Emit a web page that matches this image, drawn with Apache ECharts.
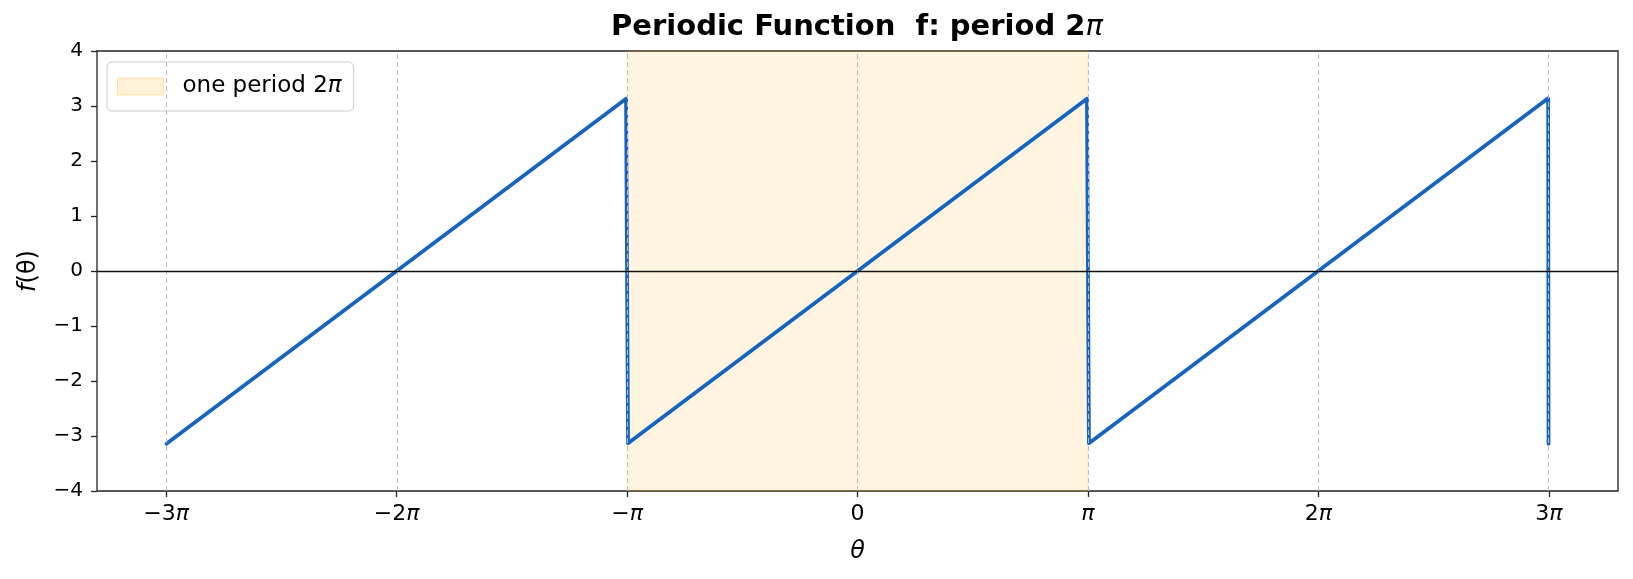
<!DOCTYPE html>
<html>
<head>
<meta charset="utf-8">
<title>Periodic Function</title>
<script src="https://cdn.jsdelivr.net/npm/echarts@6/dist/echarts.min.js"></script>
<style>
  html, body { margin: 0; padding: 0; background: #fff; }
  #chart { width: 1633px; height: 579px; }
</style>
</head>
<body>
<div id="chart"></div>
<script>
/* sawtooth f(theta), period 2pi */

// x ticks (multiples of pi) and their labels
var thetaTicks = [-9.4248, -6.2832, -3.1416, 0, 3.1416, 6.2832, 9.4248];
var thetaLabels = ['−3π', '−2π', '−π', '0', 'π', '2π', '3π'];

// corners of the sawtooth
var sawTheta = [-9.42, -3.155, -3.128, 3.128, 3.155, 9.415, 9.42];
var sawValue = [-3.14, 3.13, -3.13, 3.13, -3.13, 3.14, -3.14];

// shaded span: one period
var periodSpan = [-3.1416, 3.1416];

var FONT = 'DejaVu Sans';
var sawData = [];
for (var i = 0; i < sawTheta.length; i++) {
  sawData.push([sawTheta[i], sawValue[i]]);
}

function piLabel(txt) {
  // italic pi like mathtext
  return txt.replace('π', '{i|π}');
}

var gridLines = [];
for (var k = 0; k < thetaTicks.length; k++) {
  gridLines.push({ xAxis: thetaTicks[k], lineStyle: { color: '#bdbdbd', width: 1, type: [5, 3] } });
}
// black line at f = 0
gridLines.push({ yAxis: 0, lineStyle: { color: '#111', width: 1.4, type: 'solid' } });

var myChart = echarts.init(document.getElementById('chart'), null, { renderer: 'canvas' });

var option = {
  animation: false,
  backgroundColor: '#ffffff',
  title: {
    text: 'Periodic Function  f: period 2{i|π}',
    left: 857,
    top: 13,
    padding: 0,
    textAlign: 'center',
    textStyle: {
      fontFamily: FONT,
      fontSize: 29,
      fontWeight: 'bold',
      color: '#000',
      rich: {
        i: { fontFamily: FONT, fontSize: 29, fontStyle: 'italic', fontWeight: 'normal', color: '#000' }
      }
    }
  },
  legend: {
    left: 107,
    top: 62,
    orient: 'vertical',
    padding: [13, 12, 13, 10],
    backgroundColor: 'rgba(255,255,255,0.8)',
    borderColor: '#cccccc',
    borderWidth: 1,
    borderRadius: 5,
    itemWidth: 46,
    itemHeight: 17,
    selectedMode: false,
    data: [{
      name: 'one period 2π',
      icon: 'rect',
      itemStyle: { color: 'rgba(255,165,0,0.15)', borderColor: 'rgba(255,165,0,0.3)', borderWidth: 1 }
    }],
    formatter: function (name) { return piLabel(name); },
    textStyle: {
      fontFamily: FONT,
      fontSize: 23,
      color: '#000',
      padding: [0, 0, 0, 14],
      rich: {
        i: { fontFamily: FONT, fontSize: 23, fontStyle: 'italic', color: '#000' }
      }
    }
  },
  grid: {
    left: 97,
    right: 15,
    top: 51,
    bottom: 88,
    show: true,
    borderColor: '#222',
    borderWidth: 1.3,
    backgroundColor: 'transparent'
  },
  xAxis: {
    type: 'value',
    min: -10.367,
    max: 10.367,
    name: '{i|θ}',
    nameLocation: 'middle',
    nameGap: 49,
    nameTextStyle: {
      rich: { i: { fontFamily: FONT, fontSize: 24, fontStyle: 'italic', color: '#000' } }
    },
    axisLine: { show: false, onZero: false },
    axisTick: {
      show: true, inside: false, length: 6,
      customValues: thetaTicks,
      lineStyle: { color: '#222', width: 1.3 }
    },
    axisLabel: {
      margin: 12,
      customValues: thetaTicks,
      fontFamily: FONT,
      fontSize: 22,
      color: '#000',
      formatter: function (v) {
        for (var j = 0; j < thetaTicks.length; j++) {
          if (Math.abs(v - thetaTicks[j]) < 1e-6) return piLabel(thetaLabels[j]);
        }
        return '';
      },
      rich: { i: { fontFamily: FONT, fontSize: 22, fontStyle: 'italic', color: '#000' } }
    },
    splitLine: { show: false }
  },
  yAxis: {
    type: 'value',
    min: -4,
    max: 4,
    interval: 1,
    name: '{i|f}(θ)',
    nameLocation: 'middle',
    nameGap: 56,
    nameRotate: 90,
    nameTextStyle: {
      fontFamily: FONT,
      fontSize: 24,
      color: '#000',
      rich: { i: { fontFamily: FONT, fontSize: 24, fontStyle: 'italic', color: '#000' } }
    },
    axisLine: { show: false, onZero: false },
    axisTick: { show: true, inside: false, length: 6, lineStyle: { color: '#222', width: 1.3 } },
    axisLabel: {
      margin: 14,
      fontFamily: FONT,
      fontSize: 20,
      color: '#000',
      formatter: function (v) { return v < 0 ? '−' + Math.abs(v) : String(v); }
    },
    splitLine: { show: false }
  },
  series: [
    {
      // shaded period, also gives the legend entry
      name: 'one period 2π',
      type: 'line',
      z: 1,
      silent: true,
      symbol: 'none',
      data: [[periodSpan[0], 0], [periodSpan[1], 0]],
      lineStyle: { width: 0, opacity: 0 },
      itemStyle: { color: 'rgba(255,165,0,0.15)' },
      markArea: {
        silent: true,
        itemStyle: { color: 'rgba(255,165,0,0.12)', borderColor: 'rgba(255,165,0,0.2)', borderWidth: 1 },
        data: [[{ xAxis: periodSpan[0] }, { xAxis: periodSpan[1] }]]
      }
    },
    {
      // vertical dashed grid + zero line
      name: 'guides',
      type: 'line',
      z: 2,
      silent: true,
      symbol: 'none',
      data: [],
      markLine: {
        silent: true,
        symbol: ['none', 'none'],
        label: { show: false },
        data: gridLines
      }
    },
    {
      name: 'f',
      type: 'line',
      z: 3,
      symbol: 'none',
      data: sawData,
      lineStyle: { color: '#1565c0', width: 3.8, join: 'round', cap: 'round' },
      itemStyle: { color: '#1565c0' }
    }
  ]
};

myChart.setOption(option);
</script>
</body>
</html>
